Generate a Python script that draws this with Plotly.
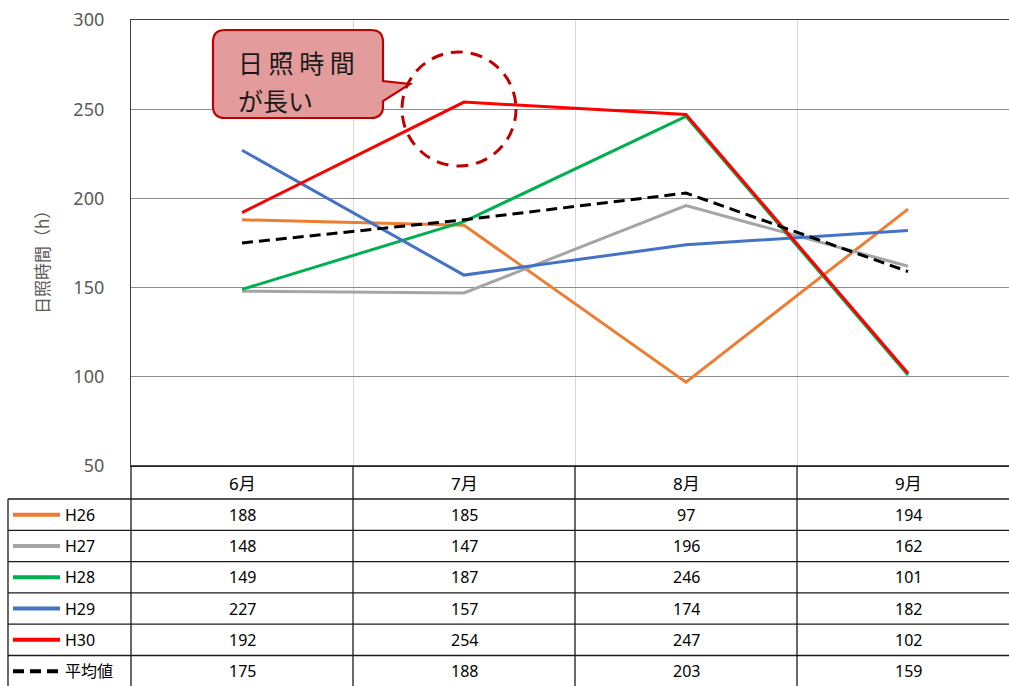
import plotly.graph_objects as go

# ---- data ----
months = ["6月", "7月", "8月", "9月"]
series_names = ["H26", "H27", "H28", "H29", "H30", "平均値"]
h26 = [188, 185, 97, 194]
h27 = [148, 147, 196, 162]
h28 = [149, 187, 246, 101]
h29 = [227, 157, 174, 182]
h30 = [192, 254, 247, 102]
avg = [175, 188, 203, 159]
series_values = [h26, h27, h28, h29, h30, avg]
colors = ["#ED7D31", "#A5A5A5", "#00B050", "#4472C4", "#FF0000", "#000000"]
dashes = ["solid"] * 5 + ["11px,6px"]
y_ticks = [50, 100, 150, 200, 250, 300]

# ---- page geometry (pixels) ----
W, H = 1009, 686
L, T, B = 131, 20, 466          # plot area left / top / bottom
COL_W = 222                     # width of one month column
HEADER_BOTTOM = 499
ROW_H = 31.3
TABLE_LEFT = 8

FONT = "Noto Sans, Noto Sans CJK JP, sans-serif"


def px(x):
    """pixel x -> paper x"""
    return (x - L) / (W - L)


def py(y):
    """pixel y -> paper y"""
    return (B - y) / (B - T)


fig = go.Figure()
x_idx = list(range(len(months)))
for name, vals, col, dash in zip(series_names, series_values, colors, dashes):
    fig.add_trace(go.Scatter(
        x=x_idx, y=vals, mode="lines", name=name,
        line=dict(color=col, width=3, dash=dash),
        showlegend=False, hoverinfo="skip",
    ))

shapes = []
annotations = []
line_col = "#1a1a1a"

# table horizontal rules
shapes.append(dict(type="line", xref="paper", yref="paper",
                   x0=px(L), x1=px(W), y0=py(B), y1=py(B),
                   line=dict(color=line_col, width=1.3)))
n_rows = len(series_names)
for k in range(n_rows + 1):
    yy = HEADER_BOTTOM + k * ROW_H
    if yy > H:
        break
    shapes.append(dict(type="line", xref="paper", yref="paper",
                       x0=px(TABLE_LEFT), x1=px(W), y0=py(yy), y1=py(yy),
                       line=dict(color=line_col, width=1.3)))

# table vertical rules
for i in range(len(months)):
    xx = L + i * COL_W
    shapes.append(dict(type="line", xref="paper", yref="paper",
                       x0=px(xx), x1=px(xx), y0=py(B), y1=py(H + 2),
                       line=dict(color=line_col, width=1.3)))
shapes.append(dict(type="line", xref="paper", yref="paper",
                   x0=px(TABLE_LEFT), x1=px(TABLE_LEFT),
                   y0=py(HEADER_BOTTOM), y1=py(H + 2),
                   line=dict(color=line_col, width=1.3)))

# header: month names
for i, m in enumerate(months):
    annotations.append(dict(x=i, xref="x", y=py(483), yref="paper",
                            text=m, showarrow=False,
                            font=dict(family=FONT, size=17, color="#000000"),
                            xanchor="center", yanchor="middle"))

# rows: legend key + values
for k, (name, vals, col, dash) in enumerate(zip(series_names, series_values, colors, dashes)):
    yc = HEADER_BOTTOM + k * ROW_H + ROW_H / 2
    shapes.append(dict(type="line", xref="paper", yref="paper",
                       x0=px(13), x1=px(60), y0=py(yc), y1=py(yc),
                       line=dict(color=col, width=4, dash=dash)))
    annotations.append(dict(x=px(63), xref="paper", y=py(yc), yref="paper",
                            text=name, showarrow=False,
                            font=dict(family=FONT, size=16, color="#000000"),
                            xanchor="left", yanchor="middle"))
    for i, v in enumerate(vals):
        annotations.append(dict(x=i, xref="x", y=py(yc), yref="paper",
                                text=str(v), showarrow=False,
                                font=dict(family=FONT, size=16, color="#000000"),
                                xanchor="center", yanchor="middle"))

# y axis title
annotations.append(dict(x=px(41), xref="paper", y=py(258), yref="paper",
                        text="日照時間（h）", textangle=-90, showarrow=False,
                        font=dict(family="Noto Sans CJK JP", size=17, color="#595959"),
                        xanchor="center", yanchor="middle"))

# callout balloon with pointer
r = 12
bx0, bx1, by0, by1 = 213, 383, 30, 118
tip = (410, 84)
pts = [
    f"M {px(bx0 + r)},{py(by0)}",
    f"L {px(bx1 - r)},{py(by0)}",
    f"Q {px(bx1)},{py(by0)} {px(bx1)},{py(by0 + r)}",
    f"L {px(bx1)},{py(81)}",
    f"L {px(tip[0])},{py(tip[1])}",
    f"L {px(bx1)},{py(101)}",
    f"L {px(bx1)},{py(by1 - r)}",
    f"Q {px(bx1)},{py(by1)} {px(bx1 - r)},{py(by1)}",
    f"L {px(bx0 + r)},{py(by1)}",
    f"Q {px(bx0)},{py(by1)} {px(bx0)},{py(by1 - r)}",
    f"L {px(bx0)},{py(by0 + r)}",
    f"Q {px(bx0)},{py(by0)} {px(bx0 + r)},{py(by0)}",
    "Z",
]
shapes.append(dict(type="path", xref="paper", yref="paper", path=" ".join(pts),
                   fillcolor="#E49B9B", line=dict(color="#C00000", width=2.2),
                   layer="above"))
annotations.append(dict(x=px(236), xref="paper", y=py(62), yref="paper",
                        text="日 照 時 間", showarrow=False,
                        font=dict(family="Noto Sans CJK JP", size=25, color="#1a1a1a"),
                        xanchor="left", yanchor="middle"))
annotations.append(dict(x=px(236), xref="paper", y=py(100), yref="paper",
                        text="が長い", showarrow=False,
                        font=dict(family="Noto Sans CJK JP", size=25, color="#1a1a1a"),
                        xanchor="left", yanchor="middle"))

# dashed highlight circle
shapes.append(dict(type="circle", xref="paper", yref="paper",
                   x0=px(402), x1=px(516), y0=py(166), y1=py(52),
                   line=dict(color="#C00000", width=3, dash="12px,8px"),
                   layer="above"))

fig.update_layout(
    width=W, height=H,
    margin=dict(l=L, r=0, t=T, b=H - B),
    paper_bgcolor="white", plot_bgcolor="white",
    shapes=shapes, annotations=annotations,
    xaxis=dict(range=[-0.5, -0.5 + (W - L) / COL_W], tickvals=[0.5, 1.5, 2.5],
               showticklabels=False, showgrid=True, gridcolor="#D9D9D9", gridwidth=1,
               zeroline=False, showline=True, mirror=True, linecolor="#404040",
               linewidth=1.3, ticks=""),
    yaxis=dict(range=[50, 300], tickvals=y_ticks, showgrid=True,
               gridcolor="#8C8C8C", gridwidth=1, zeroline=False,
               showline=True, linecolor="#404040", linewidth=1.3,
               ticks="", ticklabelstandoff=22,
               tickfont=dict(family=FONT, size=18, color="#595959")),
)

fig.write_html("out.html")
